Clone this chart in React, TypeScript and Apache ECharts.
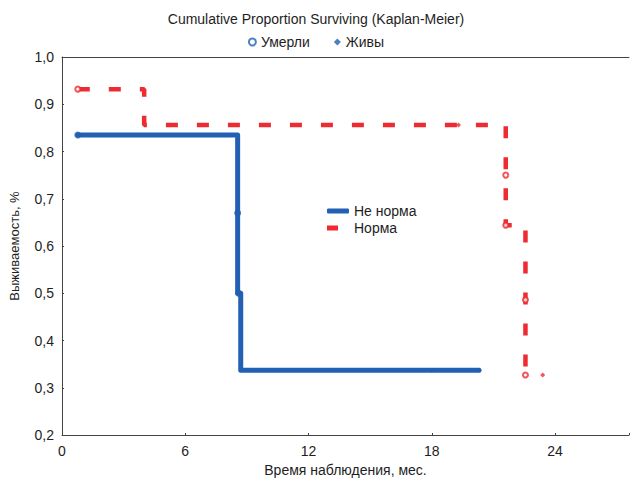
import React, { useEffect, useRef } from "react";
import * as echarts from "echarts";

// Kaplan-Meier step curves (time in months, proportion surviving)
const blueTimes = [0.77, 8.55, 8.7, 20.3];
const blueSurv = [0.835, 0.5, 0.337, 0.337];
const redTimes = [0.77, 4.0, 21.6, 22.56];
const redSurv = [0.932, 0.856, 0.644, 0.327];

// Event markers ("Умерли" = died, complete observations)
const diedBlue: [number, number][] = [[0.77, 0.835], [8.55, 0.67], [8.6, 0.5]];
const diedRed: [number, number][] = [[0.77, 0.932], [21.6, 0.75], [21.6, 0.644], [22.56, 0.486], [22.56, 0.327]];
// Censored markers ("Живы" = alive)
const aliveBlue: [number, number][] = [[18.0, 0.337], [20.3, 0.337]];
const aliveRed: [number, number][] = [[19.3, 0.856], [23.4, 0.327]];

const xTicks = [0, 6, 12, 18, 24];

const BLUE = "#2160b2";
const RED = "#ee2b31";
const FONT = "Liberation Sans, Arial, sans-serif";
const TXT = "#1e1e1e";

export default function App() {
  const ref = useRef<HTMLDivElement>(null);
  useEffect(() => {
    document.body.style.margin = "0";
    if (!ref.current) return;
    const chart = echarts.init(ref.current, undefined, { renderer: "svg" });
    const zip = (t: number[], s: number[]) => t.map((v, i) => [v, s[i]]);
    chart.setOption({
      animation: false,
      textStyle: { fontFamily: FONT, color: TXT },
      title: {
        text: "Cumulative Proportion Surviving (Kaplan-Meier)",
        left: "center",
        top: 7,
        textStyle: { fontFamily: FONT, fontSize: 14, fontWeight: "normal", color: TXT },
      },
      legend: [
        {
          data: [
            { name: "Умерли", icon: "emptyCircle" },
            { name: "Живы", icon: "diamond" },
          ],
          left: "center",
          top: 30,
          itemWidth: 7,
          itemHeight: 7,
          itemGap: 24,
          textStyle: { fontFamily: FONT, fontSize: 14, color: TXT },
        },
        {
          data: [
            { name: "Не норма", icon: "roundRect" },
            { name: "Норма", icon: "path://M0,0H11V5H0Z M22,5L22,5Z" },
          ],
          orient: "vertical",
          left: 322,
          top: 199,
          itemWidth: 22,
          itemHeight: 5,
          itemGap: 3,
          textStyle: { fontFamily: FONT, fontSize: 14, color: TXT },
        },
      ],
      grid: { left: 61, right: 0, top: 57, bottom: 47, containLabel: false },
      xAxis: [
        {
          type: "value",
          min: 0,
          max: 27.6,
          interval: 6,
          name: "Время наблюдения, мес.",
          nameLocation: "middle",
          nameGap: 28,
          nameTextStyle: { fontFamily: FONT, fontSize: 14, color: TXT },
          axisLine: { lineStyle: { color: "#444", width: 1 } },
          axisTick: { inside: true, length: 2, lineStyle: { color: "#444" } },
          axisLabel: {
            fontFamily: FONT,
            fontSize: 14,
            color: TXT,
            margin: 9,
            formatter: (v: number) => (xTicks.includes(v) ? String(v) : ""),
          },
          splitLine: { show: false },
        },
        {
          type: "value",
          position: "top",
          min: 0,
          max: 27.6,
          interval: 6,
          axisLine: { show: true, lineStyle: { color: "#444", width: 1 } },
          axisTick: { show: false },
          axisLabel: { show: false },
          splitLine: { show: false },
        },
      ],
      yAxis: {
        type: "value",
        min: 0.2,
        max: 1.0,
        interval: 0.1,
        name: "Выживаемость, %",
        nameLocation: "middle",
        nameGap: 41,
        nameTextStyle: { fontFamily: FONT, fontSize: 13, color: TXT },
        axisLine: { show: true, lineStyle: { color: "#444", width: 1 } },
        axisTick: { show: true, inside: true, length: 2, lineStyle: { color: "#444" } },
        axisLabel: {
          fontFamily: FONT,
          fontSize: 14,
          color: TXT,
          margin: 8,
          formatter: (v: number) => v.toFixed(1).replace(".", ","),
        },
        splitLine: { show: false },
      },
      series: [
        {
          name: "Не норма",
          type: "line",
          step: "end",
          data: zip(blueTimes, blueSurv),
          showSymbol: false,
          itemStyle: { color: BLUE },
          lineStyle: { color: BLUE, width: 5, cap: "round", join: "round" },
          z: 3,
        },
        {
          name: "Норма",
          type: "line",
          step: "end",
          data: zip(redTimes, redSurv),
          showSymbol: false,
          itemStyle: { color: RED },
          lineStyle: { color: RED, width: 4.5, type: [12, 19], cap: "butt" },
          z: 2,
        },
        {
          name: "Умерли",
          type: "scatter",
          data: diedBlue,
          symbol: "circle",
          symbolSize: 7,
          itemStyle: { color: BLUE },
          z: 4,
        },
        {
          name: "Умерли",
          type: "scatter",
          data: diedRed,
          symbol: "emptyCircle",
          symbolSize: 5,
          itemStyle: { color: RED, borderWidth: 1.5 },
          z: 4,
        },
        {
          name: "Живы",
          type: "scatter",
          data: aliveBlue,
          symbol: "diamond",
          symbolSize: 5,
          itemStyle: { color: BLUE },
          z: 4,
        },
        {
          name: "Живы",
          type: "scatter",
          data: aliveRed,
          symbol: "diamond",
          symbolSize: 5,
          itemStyle: { color: RED },
          z: 4,
        },
      ],
    });
    return () => chart.dispose();
  }, []);
  return <div ref={ref} style={{ width: 632, height: 482 }} />;
}
